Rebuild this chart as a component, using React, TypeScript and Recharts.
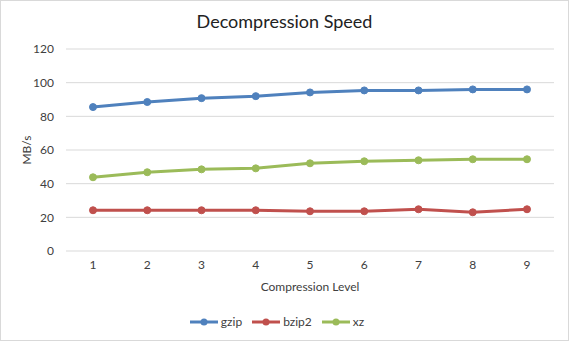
import React from 'react';
import { LineChart, Line, XAxis, YAxis, CartesianGrid, Legend } from 'recharts';

const levels = ['1', '2', '3', '4', '5', '6', '7', '8', '9'];
const gzip = [85.5, 88.5, 90.8, 92.0, 94.2, 95.4, 95.4, 96.0, 96.0];
const bzip2 = [24.2, 24.2, 24.2, 24.2, 23.6, 23.6, 24.8, 23.0, 24.8];
const xz = [43.8, 46.8, 48.5, 49.1, 52.1, 53.3, 53.9, 54.5, 54.5];
const yTicks = [0, 20, 40, 60, 80, 100, 120];

const series = [
  { key: 'gzip', color: '#4f81bd' },
  { key: 'bzip2', color: '#c0504d' },
  { key: 'xz', color: '#9bbb59' },
];

const data = levels.map((level, i) => ({
  level,
  gzip: gzip[i],
  bzip2: bzip2[i],
  xz: xz[i],
}));

const FONT = 'Lato, "Open Sans", sans-serif';

// legend sits lower than recharts puts it, so pad the top of the box
const LegendContent = () => (
  <div style={{ height: 34, paddingTop: 19, boxSizing: 'border-box', display: 'flex', justifyContent: 'center', alignItems: 'center', gap: 10, fontFamily: FONT, fontSize: 12, color: '#404040' }}>
    {series.map(s => (
      <div key={s.key} style={{ display: 'flex', alignItems: 'center', gap: 3 }}>
        <svg width={28} height={10}>
          <line x1={0} y1={5} x2={28} y2={5} stroke={s.color} strokeWidth={3} />
          <circle cx={14} cy={5} r={3.5} fill={s.color} />
        </svg>
        <span>{s.key}</span>
      </div>
    ))}
  </div>
);

export default function App() {
  return (
    <div style={{ position: 'relative', width: 569, height: 341, boxSizing: 'border-box', border: '1px solid #d9d9d9', background: '#fff' }}>
      <style>{`body{margin:0}`}</style>
      <div style={{ position: 'absolute', top: 9, left: 0, width: '100%', textAlign: 'center', fontFamily: FONT, fontSize: 18, color: '#222' }}>
        Decompression Speed
      </div>
      <div style={{ position: 'absolute', top: -1, left: -1 }}>
        <LineChart width={569} height={341} data={data} margin={{ top: 49, right: 15, left: 0, bottom: 12 }}>
          <CartesianGrid stroke="#d9d9d9" vertical={false} />
          <XAxis
            dataKey="level"
            axisLine={false}
            tickLine={false}
            tickSize={0}
            tickMargin={9}
            height={44}
            padding={{ left: 27, right: 27 }}
            tick={{ fontSize: 12, fill: '#404040', fontFamily: FONT }}
            label={{ value: 'Compression Level', position: 'insideBottom', offset: 4, fontSize: 12, fill: '#404040', fontFamily: FONT }}
          />
          <YAxis
            domain={[0, 120]}
            ticks={yTicks}
            axisLine={false}
            tickLine={false}
            tickSize={0}
            tickMargin={12}
            width={66}
            tick={{ fontSize: 12, fill: '#404040', fontFamily: FONT }}
            label={{ value: 'MB/s', angle: -90, position: 'insideLeft', offset: 27, fontSize: 12, fill: '#404040', fontFamily: FONT, style: { textAnchor: 'middle' } }}
          />
          <Legend verticalAlign="bottom" height={34} content={<LegendContent />} />
          {series.map(s => (
            <Line
              key={s.key}
              type="linear"
              dataKey={s.key}
              stroke={s.color}
              strokeWidth={3}
              dot={{ r: 3.5, fill: s.color, stroke: s.color, strokeWidth: 1 }}
              isAnimationActive={false}
            />
          ))}
        </LineChart>
      </div>
    </div>
  );
}
